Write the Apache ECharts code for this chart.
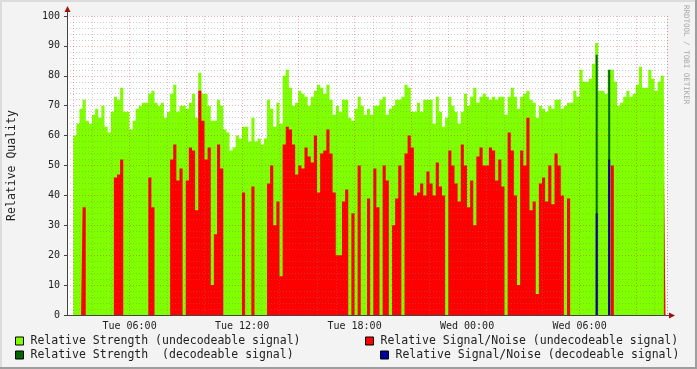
<!DOCTYPE html>
<html>
<head>
<meta charset="utf-8">
<script src="https://cdn.jsdelivr.net/npm/echarts@6/dist/echarts.min.js"></script>
<style>html,body{margin:0;padding:0;background:#F3F3F3;}#c{width:697px;height:369px;}</style>
</head>
<body>
<div id="c"></div>
<script>
// 10-minute buckets starting Tue 02:40
const startMinute = 160; // minutes after Tue 00:00
const bucketMinutes = 10;
const bucketCount = 192;

const yTicks = [0, 10, 20, 30, 40, 50, 60, 70, 80, 90, 100];

// Relative Strength (undecodeable signal)
const strengthUndecodeable = [
  null,null,60,64,69,72,65,64,67,69,
  66,70,63,61,68,73,72,76,68,68,
  62,65,69,70,71,71,74,75,71,70,
  71,66,68,74,77,68,70,70,69,71,
  74,66,81,74,74,70,65,65,72,70,
  62,61,55,56,60,59,63,63,58,66,
  58,59,57,59,72,69,63,71,64,80,
  82,76,70,71,75,74,73,70,73,75,
  77,76,74,77,72,67,70,68,72,72,
  66,65,69,73,70,67,69,67,70,70,
  72,73,67,69,70,72,72,73,77,76,
  68,68,71,68,72,72,72,64,73,68,
  63,66,73,70,68,64,68,74,70,73,
  76,71,73,74,73,72,73,72,73,73,
  67,73,76,73,69,73,74,75,72,71,
  66,70,69,68,70,69,72,72,69,70,
  71,71,75,73,82,78,78,79,84,91,
  75,75,74,82,82,78,70,71,73,75,
  73,74,77,83,76,76,82,79,75,78,
  80,75
];

// Relative Signal/Noise (undecodeable signal)
const snrUndecodeable = [
  0,0,0,0,0,36,0,0,0,0,
  0,0,0,0,0,46,47,52,0,0,
  0,0,0,0,0,0,46,36,0,0,
  0,0,0,52,57,45,49,0,45,56,
  55,35,75,65,52,56,10,27,57,49,
  0,0,0,0,0,0,41,0,0,43,
  0,0,0,0,44,50,30,38,13,57,
  63,62,57,47,50,49,56,53,51,60,
  41,54,55,62,54,41,20,20,38,42,
  0,34,0,50,0,0,39,0,49,36,
  0,50,45,0,30,39,50,0,54,60,
  56,40,41,44,40,48,44,40,51,43,
  40,0,55,50,44,38,57,50,36,45,
  30,53,56,50,50,56,55,45,52,43,
  0,61,55,40,10,55,50,66,35,38,
  7,44,46,38,50,37,54,50,40,0,
  39,0,0,0,0,0,0,0,0,0,
  0,0,0,0,50,0,0,0,0,0,
  0,0,0,0,0,0,0,0,0,0,
  0,46
];

// Decodeable signal (sparse)
const strengthDecodeable = [['Wed 06:50', 87], ['Wed 07:30', 82]];
const snrDecodeable = [['Wed 06:50', 34], ['Wed 07:30', 52]];

const seriesNames = [
  'Relative Strength (undecodeable signal)',
  'Relative Signal/Noise (undecodeable signal)',
  'Relative Strength  (decodeable signal)',
  'Relative Signal/Noise (decodeable signal)'
];

function pad(n){ return (n < 10 ? '0' : '') + n; }
const categories = [];
const catMinutes = [];
for (let i = 0; i < bucketCount; i++) {
  const t = startMinute + i * bucketMinutes;
  const day = t < 1440 ? 'Tue' : 'Wed';
  const m = t % 1440;
  categories.push(day + ' ' + pad(Math.floor(m / 60)) + ':' + pad(m % 60));
  catMinutes.push(m);
}
function toIdx(arr){ return arr.map(d => [categories.indexOf(d[0]), d[1]]); }

const mono = 'DejaVu Sans Mono';
const isHour = i => catMinutes[i] % 60 === 0;
const labelFn = (i) => catMinutes[i] !== undefined && catMinutes[i] % 360 === 0;
const minorFn = (i) => catMinutes[i] !== undefined && isHour(i) && catMinutes[i] % 180 !== 0;
const majorFn = (i) => catMinutes[i] !== undefined && catMinutes[i] % 180 === 0;

const minorColor = 'rgba(130,130,130,0.38)';
const majorColor = 'rgba(225,0,0,0.32)';

const chart = echarts.init(document.getElementById('c'), null, {renderer: 'canvas'});

function legendAt(name, left, top){
  return {
    data: [name], left: left, top: top, orient: 'horizontal', padding: 0,
    icon: 'rect', itemWidth: 8, itemHeight: 8, selectedMode: false,
    itemStyle: {borderColor: '#000', borderWidth: 1},
    textStyle: {fontFamily: mono, fontSize: 11.5, color: '#222', padding: [0, 0, 0, 2]}
  };
}

const option = {
  backgroundColor: '#F3F3F3',
  animation: false,
  grid: {left: 67, top: 16, width: 600, height: 299, show: true, backgroundColor: '#FFFFFF', borderWidth: 0,
    containLabel: false, outerBoundsMode: 'none'},
  legend: [
    legendAt(seriesNames[0], 15, 335),
    legendAt(seriesNames[2], 15, 349),
    legendAt(seriesNames[1], 365, 335),
    legendAt(seriesNames[3], 380, 349)
  ],
  xAxis: [
    {
      type: 'category', data: categories, boundaryGap: true, position: 'bottom', z: 5,
      axisLine: {show: true, lineStyle: {color: '#444', width: 1}},
      axisTick: {show: false},
      axisLabel: {interval: labelFn, fontFamily: mono, fontSize: 10, color: '#222', margin: 6, padding: [0, 3, 0, 0]},
      splitLine: {show: true, interval: minorFn, lineStyle: {color: minorColor, width: 1, type: [1, 2]}}
    },
    {
      type: 'category', data: categories, boundaryGap: true, position: 'bottom', z: 5,
      axisLine: {show: false}, axisTick: {show: false}, axisLabel: {show: false},
      splitLine: {show: true, interval: majorFn, lineStyle: {color: majorColor, width: 1, type: [1, 2]}}
    }
  ],
  yAxis: {
    type: 'value', min: yTicks[0], max: yTicks[yTicks.length - 1], interval: 10, z: 5,
    name: 'Relative Quality', nameLocation: 'middle', nameGap: 49, nameRotate: 90,
    nameTextStyle: {fontFamily: mono, fontSize: 11.5, color: '#222'},
    axisLine: {show: true, lineStyle: {color: '#444', width: 1}},
    axisTick: {show: true, length: 3, lineStyle: {color: '#444'}},
    axisLabel: {fontFamily: mono, fontSize: 10, color: '#222', margin: 7},
    splitLine: {show: true, lineStyle: {color: majorColor, width: 1, type: [1, 2]}},
    minorTick: {show: false, splitNumber: 5},
    minorSplitLine: {show: true, lineStyle: {color: minorColor, width: 1, type: [1, 2]}}
  },
  series: [
    {
      name: seriesNames[0], type: 'line', data: strengthUndecodeable, step: 'middle',
      symbol: 'none', lineStyle: {width: 0, opacity: 0},
      itemStyle: {color: '#80FF00'}, areaStyle: {color: '#80FF00', opacity: 1}, z: 2
    },
    {
      name: seriesNames[1], type: 'line', data: snrUndecodeable, step: 'middle',
      symbol: 'none', lineStyle: {width: 0, opacity: 0},
      itemStyle: {color: '#FF0000'}, areaStyle: {color: '#FF0000', opacity: 1}, z: 2
    },
    {
      name: seriesNames[2], type: 'bar', data: toIdx(strengthDecodeable), barWidth: 2, barGap: '-100%',
      itemStyle: {color: '#006600'}, z: 3
    },
    {
      name: seriesNames[3], type: 'bar', data: toIdx(snrDecodeable), barWidth: 2, barGap: '-100%',
      itemStyle: {color: '#0000A0'}, z: 4
    }
  ],
  graphic: [
    {type: 'rect', shape: {x: 0, y: 0, width: 697, height: 2}, style: {fill: '#DCDCDC'}, silent: true},
    {type: 'rect', shape: {x: 0, y: 0, width: 2, height: 369}, style: {fill: '#DCDCDC'}, silent: true},
    {type: 'rect', shape: {x: 0, y: 367, width: 697, height: 2}, style: {fill: '#9E9E9E'}, silent: true},
    {type: 'rect', shape: {x: 695, y: 0, width: 2, height: 369}, style: {fill: '#9E9E9E'}, silent: true},
    {type: 'line', shape: {x1: 67.5, y1: 16, x2: 67.5, y2: 9}, style: {stroke: '#444', lineWidth: 1}, silent: true},
    {type: 'polygon', shape: {points: [[64.5, 12], [70.5, 12], [67.5, 6]]}, style: {fill: '#A01010'}, silent: true},
    {type: 'line', shape: {x1: 667, y1: 315.5, x2: 670, y2: 315.5}, style: {stroke: '#444', lineWidth: 1}, silent: true},
    {type: 'polygon', shape: {points: [[669, 312.5], [669, 318.5], [675, 315.5]]}, style: {fill: '#A01010'}, silent: true},
    {type: 'text', x: 686, y: 5, rotation: -Math.PI / 2,
      style: {text: 'RRDTOOL / TOBI OETIKER', fontFamily: mono, fontSize: 7.5, fill: '#A8A8A8', align: 'left', verticalAlign: 'middle'}, silent: true}
  ]
};
chart.setOption(option);
</script>
</body>
</html>
